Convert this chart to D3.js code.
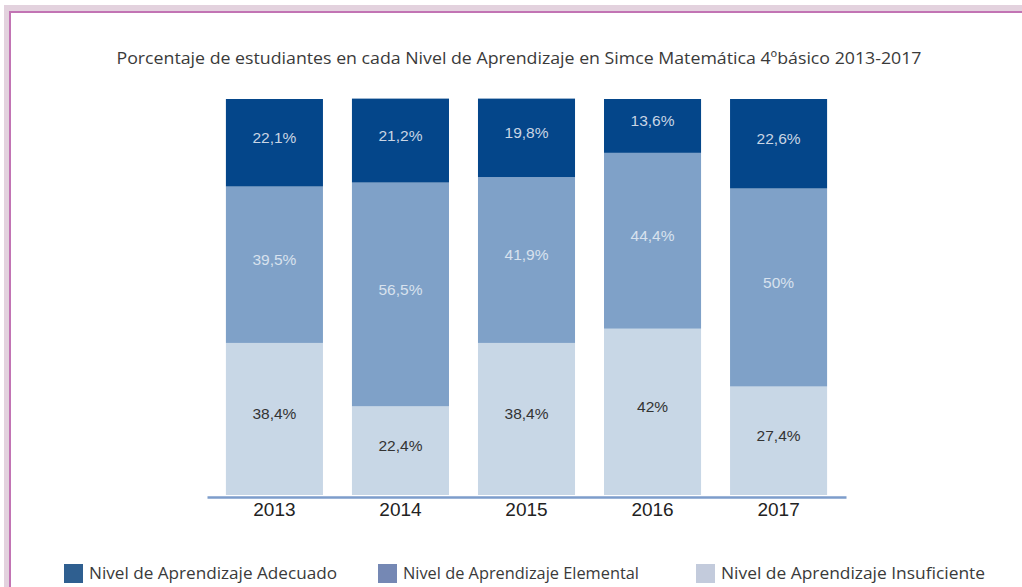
<!DOCTYPE html>
<html>
<head>
<meta charset="utf-8">
<script src="https://cdn.jsdelivr.net/npm/d3@7"></script>
<style>
  body { margin: 0; background: #fff; }
  svg { display: block; }
</style>
</head>
<body>
<div id="chart"></div>
<script>
// data
var years = ["2013", "2014", "2015", "2016", "2017"];
var levels = ["Nivel de Aprendizaje Insuficiente", "Nivel de Aprendizaje Elemental", "Nivel de Aprendizaje Adecuado"];
var insuficiente = [38.4, 22.4, 38.4, 42, 27.4];
var elemental = [39.5, 56.5, 41.9, 44.4, 50];
var adecuado = [22.1, 21.2, 19.8, 13.6, 22.6];
var legendOrder = ["Nivel de Aprendizaje Adecuado", "Nivel de Aprendizaje Elemental", "Nivel de Aprendizaje Insuficiente"];

var svgWidth = 1022;
var svgHeight = 587;

var svg = d3.select("#chart")
  .append("svg")
  .attr("width", svgWidth)
  .attr("height", svgHeight);

// pink frame
svg.append("rect").attr("x", 4).attr("y", 5).attr("width", 1030).attr("height", 600).attr("fill", "#e3d2de");
svg.append("rect").attr("x", 9).attr("y", 11).attr("width", 1030).attr("height", 600).attr("fill", "#c274b4");
svg.append("rect").attr("x", 11).attr("y", 13).attr("width", 1030).attr("height", 600).attr("fill", "#fff");

// title
svg.append("text")
  .attr("x", 519)
  .attr("y", 64)
  .attr("text-anchor", "middle")
  .attr("font-family", "'Open Sans', sans-serif")
  .attr("font-size", 16)
  .attr("fill", "#3a3a3a")
  .attr("textLength", 805)
  .attr("lengthAdjust", "spacingAndGlyphs")
  .text("Porcentaje de estudiantes en cada Nivel de Aprendizaje en Simce Matemática 4ºbásico 2013-2017");

var barFill = {};
barFill[levels[0]] = "#c8d7e6";
barFill[levels[1]] = "#7fa1c8";
barFill[levels[2]] = "#04468a";
var labelFill = {};
labelFill[levels[0]] = "#333";
labelFill[levels[1]] = "#d8e2ee";
labelFill[levels[2]] = "#c9d5e4";
var swatchFill = {};
swatchFill[levels[2]] = "#2f5f90";
swatchFill[levels[1]] = "#7588b4";
swatchFill[levels[0]] = "#c3cbdc";

var x = d3.scaleBand()
  .domain(years)
  .range([207, 846])
  .paddingInner(0.23)
  .paddingOuter(0.15);

var y = d3.scaleLinear()
  .domain([0, 100])
  .range([495, 99]);

// Build stacked rows
var rows = years.map(function(yr, i) {
  var r = { year: yr };
  r[levels[0]] = insuficiente[i];
  r[levels[1]] = elemental[i];
  r[levels[2]] = adecuado[i];
  return r;
});

var series = d3.stack().keys(levels)(rows);

var groups = svg.selectAll("g.layer")
  .data(series)
  .enter()
  .append("g")
  .attr("class", "layer");

groups.selectAll("rect")
  .data(function(s) { return s.map(function(d) { d.key = s.key; return d; }); })
  .enter()
  .append("rect")
  .attr("x", d => x(d.data.year))
  .attr("y", d => y(d[1]))
  .attr("width", x.bandwidth())
  .attr("height", d => y(d[0]) - y(d[1]))
  .attr("fill", d => barFill[d.key]);

groups.selectAll("text")
  .data(function(s) { return s.map(function(d) { d.key = s.key; return d; }); })
  .enter()
  .append("text")
  .attr("x", d => x(d.data.year) + x.bandwidth() / 2)
  .attr("y", d => (y(d[0]) + y(d[1])) / 2 - 5)
  .attr("dy", "0.35em")
  .attr("text-anchor", "middle")
  .attr("font-family", "Liberation Sans, Arial, sans-serif")
  .attr("font-size", 15.5)
  .attr("fill", d => labelFill[d.key])
  .text(d => String(d.data[d.key]).replace(".", ",") + "%");

// x axis
var axis = svg.append("g")
  .attr("transform", "translate(0, 497)")
  .call(d3.axisBottom(x).tickSize(0).tickPadding(6));
axis.select(".domain").attr("stroke", "#7d9dcb").attr("stroke-width", 2.5);
axis.selectAll("text")
  .attr("font-family", "Liberation Sans, Arial, sans-serif")
  .attr("font-size", 19)
  .attr("fill", "#222");

// legend
var legendX = [64, 378, 696];
var legendW = [248, 236, 264];
var legend = svg.selectAll("g.legend")
  .data(legendOrder)
  .enter()
  .append("g")
  .attr("class", "legend")
  .attr("transform", (d, i) => `translate(${legendX[i]}, 564)`);

legend.append("rect")
  .attr("width", 19)
  .attr("height", 19)
  .attr("fill", d => swatchFill[d]);

legend.append("text")
  .attr("x", 25)
  .attr("y", 15)
  .attr("font-family", "'Open Sans', sans-serif")
  .attr("font-size", 16)
  .attr("fill", "#3a3a3a")
  .attr("textLength", (d, i) => legendW[i])
  .attr("lengthAdjust", "spacingAndGlyphs")
  .text(d => d);
</script>
</body>
</html>
